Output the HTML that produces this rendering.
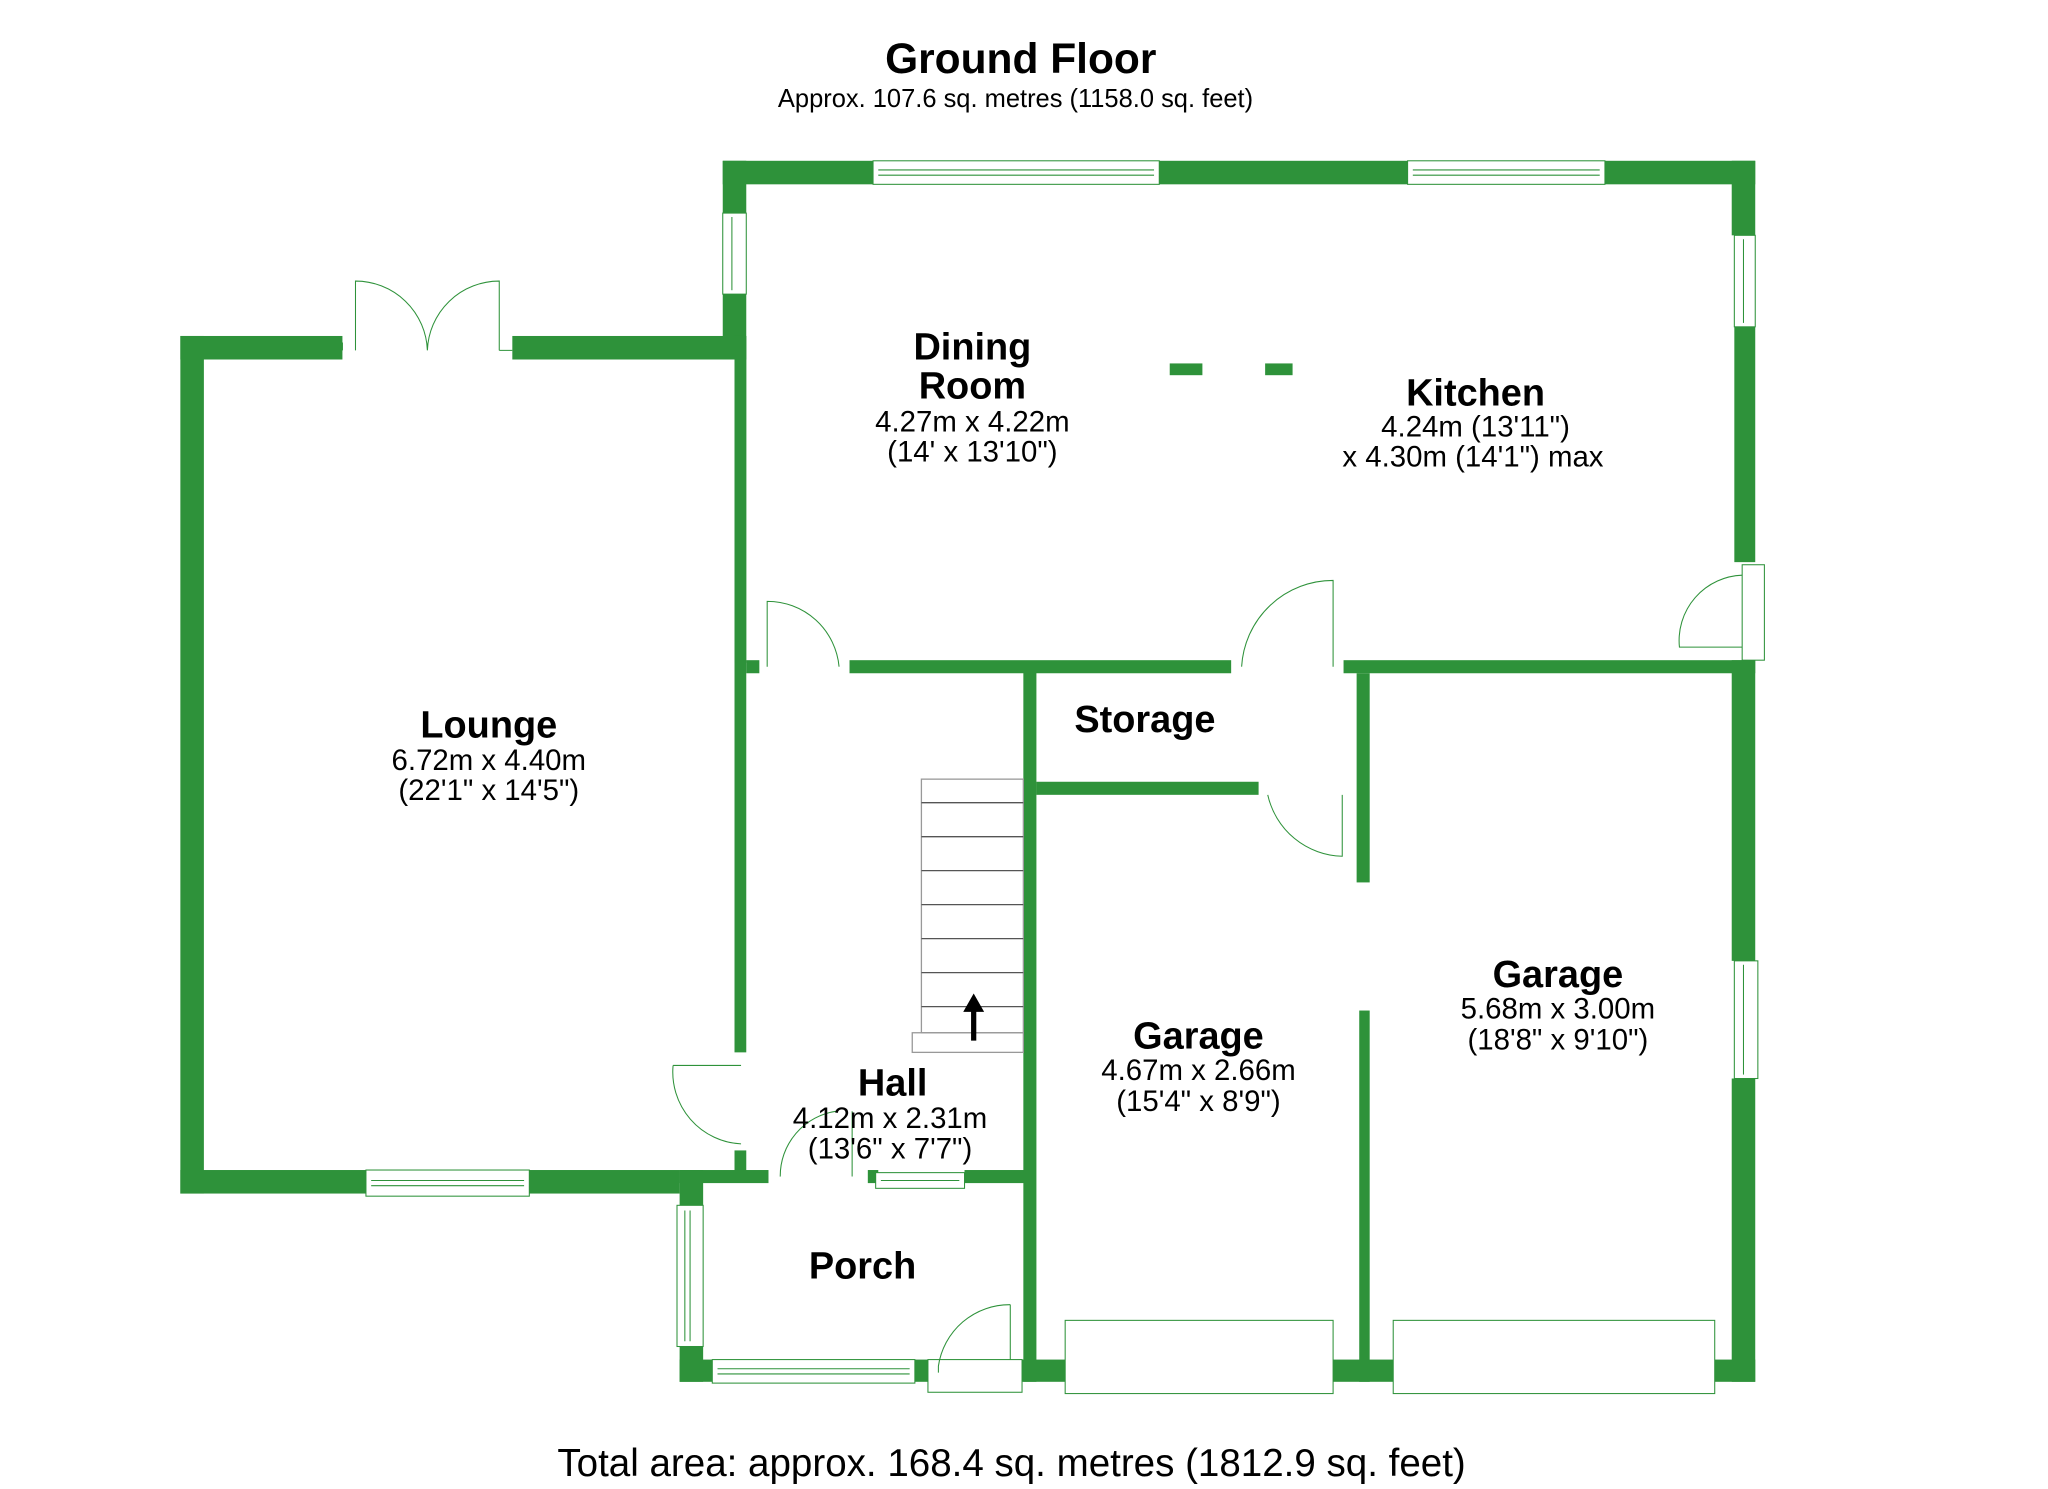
<!DOCTYPE html>
<html><head><meta charset="utf-8"><style>
html,body{margin:0;padding:0;background:#fff;}
svg{display:block;}
text{font-family:"Liberation Sans",Arial,sans-serif;fill:#000;}
.b{font-weight:bold;}
</style></head><body>
<svg width="2048" height="1489" viewBox="0 0 1567 1139" preserveAspectRatio="none" xmlns="http://www.w3.org/2000/svg">
<rect width="1567" height="1139" fill="#fff"/>
<g fill="#2e923a">
<rect x="553" y="123" width="115" height="18"/>
<rect x="887" y="123" width="190" height="18"/>
<rect x="1228" y="123" width="115" height="18"/>
<rect x="553" y="123" width="18" height="40"/>
<rect x="553" y="225" width="18" height="50"/>
<rect x="562" y="257" width="9" height="250"/>
<rect x="1325" y="123" width="18" height="57"/>
<rect x="1327" y="250" width="16" height="180"/>
<rect x="1325" y="505" width="18" height="230"/>
<rect x="1325" y="825" width="18" height="232"/>
<rect x="138" y="257" width="124" height="18"/>
<rect x="392" y="257" width="179" height="18"/>
<rect x="138" y="257" width="18" height="656"/>
<rect x="138" y="895" width="142" height="18"/>
<rect x="405" y="895" width="115" height="18"/>
<rect x="562" y="275" width="9" height="530"/>
<rect x="562" y="880" width="9" height="20"/>
<rect x="520" y="895" width="68" height="10"/>
<rect x="664" y="895" width="8" height="10"/>
<rect x="738" y="895" width="52" height="10"/>
<rect x="520" y="895" width="18" height="27"/>
<rect x="520" y="1030" width="18" height="27"/>
<rect x="520" y="1040" width="25" height="17"/>
<rect x="700" y="1040" width="10" height="17"/>
<rect x="775" y="1040" width="40" height="17"/>
<rect x="783" y="510" width="10" height="547"/>
<rect x="571" y="505" width="10" height="10"/>
<rect x="650" y="505" width="292" height="10"/>
<rect x="1028" y="505" width="315" height="10"/>
<rect x="793" y="598" width="170" height="10"/>
<rect x="1038" y="515" width="10" height="160"/>
<rect x="1040" y="773" width="8" height="284"/>
<rect x="1020" y="1040" width="46" height="17"/>
<rect x="1312" y="1040" width="31" height="17"/>
<rect x="895" y="278" width="25" height="9"/>
<rect x="968" y="278" width="21" height="9"/>
</g>
<g fill="#fff" stroke="#2e923a" stroke-width="0.8">
<rect x="668" y="123" width="219" height="18"/><line x1="672" y1="130" x2="883" y2="130"/><line x1="672" y1="134" x2="883" y2="134"/>
<rect x="1077" y="123" width="151" height="18"/><line x1="1081" y1="130" x2="1224" y2="130"/><line x1="1081" y1="134" x2="1224" y2="134"/>
<rect x="553" y="163" width="18" height="62"/><line x1="560" y1="166" x2="560" y2="222"/>
<rect x="1327" y="180" width="16" height="70"/><line x1="1334" y1="183" x2="1334" y2="247"/>
<rect x="280" y="895" width="125" height="20"/><line x1="284" y1="903" x2="401" y2="903"/><line x1="284" y1="907" x2="401" y2="907"/>
<rect x="670" y="897" width="68" height="12"/><line x1="674" y1="903" x2="734" y2="903"/>
<rect x="518" y="922" width="20" height="108"/><line x1="524" y1="926" x2="524" y2="1026"/><line x1="528" y1="926" x2="528" y2="1026"/>
<rect x="545" y="1040" width="155" height="18"/><line x1="549" y1="1047" x2="696" y2="1047"/><line x1="549" y1="1051" x2="696" y2="1051"/>
<rect x="1327" y="735" width="18" height="90"/><line x1="1334" y1="738" x2="1334" y2="822"/>
<rect x="1333" y="432" width="17" height="73"/>
<rect x="815" y="1010" width="205" height="56"/>
<rect x="1066" y="1010" width="246" height="56"/>
<rect x="710" y="1040" width="72" height="25"/>
</g>
<g fill="none" stroke="#2e923a" stroke-width="0.8">
<path d="M262 262 V268 M272 268 V215 A55 55 0 0 1 327 268 M382 268 V215 A55 55 0 0 0 327 268 M382 268 H392"/>
<path d="M587 510 V460 A55 55 0 0 1 642 510"/>
<path d="M1020 510 V444 A70 70 0 0 0 950 510"/>
<path d="M1333 440 A50 50 0 0 0 1285 495 H1333"/>
<path d="M515 815 H567 M515 815 A55 55 0 0 0 567 875"/>
<path d="M597 900 A50 50 0 0 1 640 850 M652 900 V850"/>
<path d="M773 998 V1040 M773 998 A55 55 0 0 0 718 1045 V1050"/>
<path d="M970 608 A60 60 0 0 0 1027 655 V608"/>
</g>
<g stroke="#555" stroke-width="1" fill="none">
<rect x="705" y="596" width="78" height="194" stroke="#999"/>
<line x1="705" y1="614" x2="783" y2="614"/><line x1="705" y1="640" x2="783" y2="640"/>
<line x1="705" y1="666" x2="783" y2="666"/><line x1="705" y1="692" x2="783" y2="692"/>
<line x1="705" y1="718" x2="783" y2="718"/><line x1="705" y1="744" x2="783" y2="744"/>
<line x1="705" y1="770" x2="783" y2="770"/>
<rect x="698" y="790" width="85" height="15" stroke="#999"/>
</g>
<path d="M743 796 V774 H737 L745 760 L753 774 H747 V796 Z" fill="#000"/>
<text x="781" y="56" font-size="32.5" class="b" text-anchor="middle">Ground Floor</text>
<text x="777" y="82" font-size="19.5" text-anchor="middle">Approx. 107.6 sq. metres (1158.0 sq. feet)</text>
<g text-anchor="middle">
<text x="744" y="275" font-size="29" class="b">Dining</text>
<text x="744" y="305" font-size="29" class="b">Room</text>
<text x="744" y="330" font-size="22.5">4.27m x 4.22m</text>
<text x="744" y="353" font-size="22.5">(14' x 13'10")</text>
<text x="1129" y="310" font-size="29" class="b">Kitchen</text>
<text x="1129" y="334" font-size="22.5">4.24m (13'11")</text>
<text x="1127" y="357" font-size="22.5">x 4.30m (14'1") max</text>
<text x="374" y="564" font-size="29" class="b">Lounge</text>
<text x="374" y="589" font-size="22.5">6.72m x 4.40m</text>
<text x="374" y="612" font-size="22.5">(22'1" x 14'5")</text>
<text x="876" y="560" font-size="29" class="b">Storage</text>
<text x="1192" y="755" font-size="29" class="b">Garage</text>
<text x="1192" y="779" font-size="22.5">5.68m x 3.00m</text>
<text x="1192" y="803" font-size="22.5">(18'8" x 9'10")</text>
<text x="917" y="802" font-size="29" class="b">Garage</text>
<text x="917" y="826" font-size="22.5">4.67m x 2.66m</text>
<text x="917" y="850" font-size="22.5">(15'4" x 8'9")</text>
<text x="683" y="838" font-size="29" class="b">Hall</text>
<text x="681" y="863" font-size="22.5">4.12m x 2.31m</text>
<text x="681" y="886" font-size="22.5">(13'6" x 7'7")</text>
<text x="660" y="978" font-size="29" class="b">Porch</text>
<text x="774" y="1129" font-size="29.5">Total area: approx. 168.4 sq. metres (1812.9 sq. feet)</text>
</g>
</svg>
</body></html>
